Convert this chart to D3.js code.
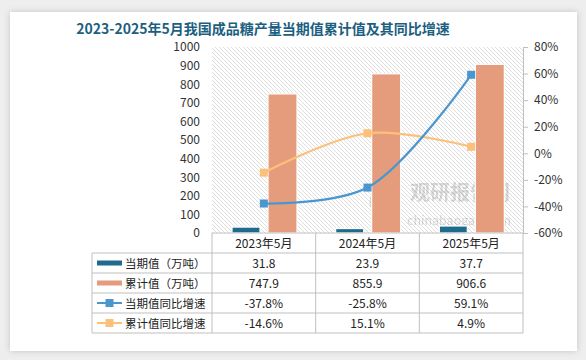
<!DOCTYPE html>
<html>
<head>
<meta charset="utf-8">
<script src="https://cdn.jsdelivr.net/npm/d3@7/dist/d3.min.js"></script>
<style>
  body { margin: 0; background: #eeeeee; }
  svg { display: block; font-family: "Noto Sans CJK SC", "DejaVu Sans", sans-serif; }
</style>
</head>
<body>
<script>
// data
var categories = ["2023年5月", "2024年5月", "2025年5月"];
var currentVals = [31.8, 23.9, 37.7];      // 当期值（万吨）
var cumulativeVals = [747.9, 855.9, 906.6]; // 累计值（万吨）
var currentYoY = [-37.8, -25.8, 59.1];      // 当期值同比增速 %
var cumulativeYoY = [-14.6, 15.1, 4.9];     // 累计值同比增速 %
var leftTicks = [0, 100, 200, 300, 400, 500, 600, 700, 800, 900, 1000];
var rightTicks = [-60, -40, -20, 0, 20, 40, 60, 80];

var width = 586, height = 360;
var plotLeft = 212, plotRight = 523, plotTop = 47, plotBottom = 233;
var tableLeft = 92, rowH = 20;

var colors = {
    current: "#1f6b8e",
    cumulative: "#e59c7c",
    currentLine: "#4a96cf",
    cumulativeLine: "#fcc07a"
};

var svg = d3.select("body").append("svg")
    .attr("width", width)
    .attr("height", height);

var defs = svg.append("defs");
var shadow = defs.append("filter").attr("id", "cardShadow")
    .attr("x", "-5%").attr("y", "-5%").attr("width", "110%").attr("height", "110%");
shadow.append("feDropShadow").attr("dx", 0).attr("dy", 0).attr("stdDeviation", 3)
    .attr("flood-color", "#000").attr("flood-opacity", 0.18);

var hatch = defs.append("pattern").attr("id", "hatch")
    .attr("patternUnits", "userSpaceOnUse")
    .attr("width", 4).attr("height", 4);
hatch.append("rect").attr("width", 4).attr("height", 4).attr("fill", "#ffffff");
hatch.append("path").attr("d", "M-1,-1 L5,5 M-1,3 L1,5 M3,-1 L5,1")
    .attr("stroke", "#d6d6d6").attr("stroke-width", 0.8);

// card
svg.append("rect")
    .attr("x", 10).attr("y", 12).attr("width", 567).attr("height", 339)
    .attr("fill", "#ffffff")
    .attr("filter", "url(#cardShadow)");

// title
svg.append("text")
    .attr("x", 263).attr("y", 34)
    .attr("text-anchor", "middle")
    .attr("font-size", 14)
    .attr("font-weight", "bold")
    .attr("fill", "#1d5f80")
    .text("2023-2025年5月我国成品糖产量当期值累计值及其同比增速");

// scales
var x = d3.scaleBand().domain(categories).range([plotLeft, plotRight]);
var yLeft = d3.scaleLinear().domain([0, 1000]).range([plotBottom, plotTop]);
var yRight = d3.scaleLinear().domain([-60, 80]).range([plotBottom, plotTop]);

// plot background
svg.append("rect")
    .attr("x", plotLeft).attr("y", plotTop)
    .attr("width", plotRight - plotLeft).attr("height", plotBottom - plotTop)
    .attr("fill", "url(#hatch)");

// watermark
var wm = svg.append("g").attr("opacity", 0.22);
wm.append("circle").attr("cx", 384).attr("cy", 202).attr("r", 12)
    .attr("fill", "none").attr("stroke", "#666").attr("stroke-width", 5);
wm.append("text").attr("x", 410).attr("y", 200)
    .attr("font-size", 20).attr("font-weight", "bold").attr("fill", "#555")
    .text("观研报告网");
wm.append("text").attr("x", 407).attr("y", 225)
    .attr("font-size", 12.5).attr("fill", "#555")
    .text("chinabaogao.com");

// left axis
var leftAxis = svg.append("g")
    .attr("transform", "translate(" + plotLeft + ",0)")
    .call(d3.axisLeft(yLeft).tickValues(leftTicks).tickSize(0).tickPadding(12)
        .tickFormat(d3.format("d")));
leftAxis.select(".domain").remove();
leftAxis.selectAll("text").attr("font-size", 12).attr("fill", "#333")
    .attr("font-family", "'Noto Sans CJK SC', sans-serif");

// right axis
var rightAxis = svg.append("g")
    .attr("transform", "translate(" + plotRight + ",0)")
    .call(d3.axisRight(yRight).tickValues(rightTicks).tickSize(5).tickPadding(6)
        .tickFormat(function(d) { return d + "%"; }));
rightAxis.select(".domain").attr("stroke", "#bfbfbf");
rightAxis.selectAll("line").attr("stroke", "#bfbfbf");
rightAxis.selectAll("text").attr("font-size", 12).attr("fill", "#333")
    .attr("font-family", "'Noto Sans CJK SC', sans-serif");

// bars
var barW = 28;
var bars = svg.append("g");
bars.selectAll(".cur").data(categories).enter().append("rect")
    .attr("x", function(d) { return x(d) + 20; })
    .attr("y", function(d, i) { return yLeft(currentVals[i]); })
    .attr("width", barW)
    .attr("height", function(d, i) { return plotBottom - yLeft(currentVals[i]); })
    .attr("fill", colors.current)
    .attr("stroke", "#ffffff").attr("stroke-width", 1.2);
bars.selectAll(".cum").data(categories).enter().append("rect")
    .attr("x", function(d) { return x(d) + 56; })
    .attr("y", function(d, i) { return yLeft(cumulativeVals[i]); })
    .attr("width", barW + 1)
    .attr("height", function(d, i) { return plotBottom - yLeft(cumulativeVals[i]); })
    .attr("fill", colors.cumulative)
    .attr("stroke", "#ffffff").attr("stroke-width", 1.2);

// lines
var line = d3.line()
    .x(function(d) { return x(d.c) + x.bandwidth() / 2; })
    .y(function(d) { return yRight(d.v); })
    .curve(d3.curveCatmullRom.alpha(0.5));

function drawSeries(vals, color) {
    var pts = categories.map(function(c, i) { return {c: c, v: vals[i]}; });
    svg.append("path").datum(pts)
        .attr("d", line)
        .attr("fill", "none")
        .attr("stroke", color)
        .attr("stroke-width", 2.2);
    svg.selectAll(null).data(pts).enter().append("rect")
        .attr("x", function(d) { return x(d.c) + x.bandwidth() / 2 - 4; })
        .attr("y", function(d) { return yRight(d.v) - 4; })
        .attr("width", 8).attr("height", 8)
        .attr("fill", color);
}
drawSeries(cumulativeYoY, colors.cumulativeLine);
drawSeries(currentYoY, colors.currentLine);

// data table
var rows = [
    {name: "当期值（万吨）", vals: currentVals.map(function(v) { return v.toFixed(1); }), key: "bar", color: colors.current},
    {name: "累计值（万吨）", vals: cumulativeVals.map(function(v) { return v.toFixed(1); }), key: "bar", color: colors.cumulative},
    {name: "当期值同比增速", vals: currentYoY.map(function(v) { return v.toFixed(1) + "%"; }), key: "line", color: colors.currentLine},
    {name: "累计值同比增速", vals: cumulativeYoY.map(function(v) { return v.toFixed(1) + "%"; }), key: "line", color: colors.cumulativeLine}
];

var table = svg.append("g");
var gridColor = "#c0c0c0";
var tableBottom = plotBottom + rowH * 5;

// horizontal lines
for (var r = 0; r <= 5; r++) {
    var yy = plotBottom + r * rowH;
    table.append("line")
        .attr("x1", r === 0 ? plotLeft : tableLeft).attr("x2", plotRight)
        .attr("y1", yy).attr("y2", yy)
        .attr("stroke", gridColor).attr("stroke-width", 1);
}
// vertical lines
table.append("line").attr("x1", tableLeft).attr("x2", tableLeft)
    .attr("y1", plotBottom + rowH).attr("y2", tableBottom)
    .attr("stroke", gridColor);
[plotLeft].concat(categories.map(function(c) { return x(c) + x.bandwidth(); })).forEach(function(xx) {
    table.append("line").attr("x1", xx).attr("x2", xx)
        .attr("y1", plotBottom).attr("y2", tableBottom)
        .attr("stroke", gridColor);
});

// header
table.selectAll(".hdr").data(categories).enter().append("text")
    .attr("x", function(d) { return x(d) + x.bandwidth() / 2; })
    .attr("y", plotBottom + rowH / 2 + 4.5)
    .attr("text-anchor", "middle")
    .attr("font-size", 12).attr("fill", "#222")
    .text(function(d) { return d; });

rows.forEach(function(row, i) {
    var cy = plotBottom + rowH * (i + 1) + rowH / 2;
    if (row.key === "bar") {
        table.append("rect").attr("x", 97).attr("y", cy - 2.5)
            .attr("width", 25).attr("height", 5).attr("fill", row.color);
    } else {
        table.append("line").attr("x1", 97).attr("x2", 122)
            .attr("y1", cy).attr("y2", cy)
            .attr("stroke", row.color).attr("stroke-width", 2);
        table.append("rect").attr("x", 105.5).attr("y", cy - 4)
            .attr("width", 8).attr("height", 8).attr("fill", row.color);
    }
    table.append("text")
        .attr("x", 125).attr("y", cy + 4.5)
        .attr("font-size", 11.5).attr("fill", "#222")
        .text(row.name);
    row.vals.forEach(function(v, j) {
        table.append("text")
            .attr("x", x(categories[j]) + x.bandwidth() / 2)
            .attr("y", cy + 4.5)
            .attr("text-anchor", "middle")
            .attr("font-size", 12).attr("fill", "#222")
            .text(v);
    });
});
</script>
</body>
</html>
